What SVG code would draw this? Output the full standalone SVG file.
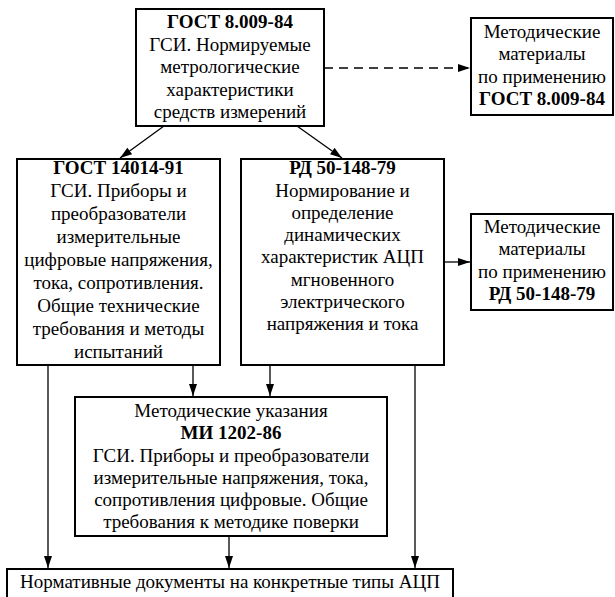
<svg xmlns="http://www.w3.org/2000/svg" width="615" height="597" viewBox="0 0 615 597">
<style>
.box{fill:#fff;stroke:#000;stroke-width:2}
.ln{stroke:#000;stroke-width:1.3;fill:none}
.dash{stroke-dasharray:9,6}
</style>
<defs>
<marker id="ah" viewBox="0 0 12 8" refX="12" refY="4" markerWidth="12" markerHeight="8" markerUnits="userSpaceOnUse" orient="auto">
<path d="M0,0 L12,4 L0,8 z" fill="#000"/>
</marker>
</defs>
<g id="connectors">
<line class="ln dash" x1="324" y1="68" x2="470" y2="68" marker-end="url(#ah)"/>
<line class="ln" x1="164" y1="126" x2="120" y2="158" marker-end="url(#ah)"/>
<line class="ln" x1="297" y1="126" x2="342" y2="158" marker-end="url(#ah)"/>
<line class="ln" x1="444" y1="262" x2="470" y2="262" marker-end="url(#ah)"/>
<line class="ln" x1="193" y1="365" x2="193" y2="396" marker-end="url(#ah)"/>
<line class="ln" x1="270" y1="365" x2="270" y2="396" marker-end="url(#ah)"/>
<line class="ln" x1="48" y1="365" x2="48" y2="568" marker-end="url(#ah)"/>
<line class="ln" x1="229" y1="536" x2="229" y2="568" marker-end="url(#ah)"/>
<line class="ln" x1="415" y1="365" x2="415" y2="568" marker-end="url(#ah)"/>
</g>
<g id="gost8009">
<rect class="box" x="136" y="9" width="188" height="117"/>
<text x="230" y="28" font-family="Liberation Serif" font-size="19" text-anchor="middle" font-weight="bold">ГОСТ 8.009-84</text>
<text x="230" y="50.5" font-family="Liberation Serif" font-size="19" text-anchor="middle">ГСИ. Нормируемые</text>
<text x="230" y="73" font-family="Liberation Serif" font-size="19" text-anchor="middle">метрологические</text>
<text x="230" y="95.5" font-family="Liberation Serif" font-size="19" text-anchor="middle">характеристики</text>
<text x="230" y="118" font-family="Liberation Serif" font-size="19" text-anchor="middle">средств измерений</text>
</g>
<g id="metod1">
<rect class="box" x="471" y="18" width="142" height="97"/>
<text x="542" y="38" font-family="Liberation Serif" font-size="19" text-anchor="middle">Методические</text>
<text x="542" y="60" font-family="Liberation Serif" font-size="19" text-anchor="middle">материалы</text>
<text x="542" y="82.5" font-family="Liberation Serif" font-size="19" text-anchor="middle">по применению</text>
<text x="542" y="105" font-family="Liberation Serif" font-size="19" text-anchor="middle" font-weight="bold">ГОСТ 8.009-84</text>
</g>
<g id="gost14014">
<rect class="box" x="17" y="159" width="203" height="206"/>
<text x="118.5" y="174" font-family="Liberation Serif" font-size="19" text-anchor="middle" font-weight="bold">ГОСТ 14014-91</text>
<text x="118.5" y="197" font-family="Liberation Serif" font-size="19" text-anchor="middle">ГСИ. Приборы и</text>
<text x="118.5" y="220" font-family="Liberation Serif" font-size="19" text-anchor="middle">преобразователи</text>
<text x="118.5" y="243" font-family="Liberation Serif" font-size="19" text-anchor="middle">измерительные</text>
<text x="118.5" y="266" font-family="Liberation Serif" font-size="19" text-anchor="middle">цифровые напряжения,</text>
<text x="118.5" y="289" font-family="Liberation Serif" font-size="19" text-anchor="middle">тока, сопротивления.</text>
<text x="118.5" y="312" font-family="Liberation Serif" font-size="19" text-anchor="middle">Общие технические</text>
<text x="118.5" y="335" font-family="Liberation Serif" font-size="19" text-anchor="middle">требования и методы</text>
<text x="118.5" y="358" font-family="Liberation Serif" font-size="19" text-anchor="middle">испытаний</text>
</g>
<g id="rd50">
<rect class="box" x="241" y="159" width="203" height="206"/>
<text x="342.5" y="174" font-family="Liberation Serif" font-size="19" text-anchor="middle" font-weight="bold">РД 50-148-79</text>
<text x="342.5" y="196.5" font-family="Liberation Serif" font-size="19" text-anchor="middle">Нормирование и</text>
<text x="342.5" y="219" font-family="Liberation Serif" font-size="19" text-anchor="middle">определение</text>
<text x="342.5" y="241" font-family="Liberation Serif" font-size="19" text-anchor="middle">динамических</text>
<text x="342.5" y="263" font-family="Liberation Serif" font-size="19" text-anchor="middle">характеристик АЦП</text>
<text x="342.5" y="285.5" font-family="Liberation Serif" font-size="19" text-anchor="middle">мгновенного</text>
<text x="342.5" y="307.5" font-family="Liberation Serif" font-size="19" text-anchor="middle">электрического</text>
<text x="342.5" y="330" font-family="Liberation Serif" font-size="19" text-anchor="middle">напряжения и тока</text>
</g>
<g id="metod2">
<rect class="box" x="471" y="214" width="142" height="96"/>
<text x="542" y="233" font-family="Liberation Serif" font-size="19" text-anchor="middle">Методические</text>
<text x="542" y="255" font-family="Liberation Serif" font-size="19" text-anchor="middle">материалы</text>
<text x="542" y="277.5" font-family="Liberation Serif" font-size="19" text-anchor="middle">по применению</text>
<text x="542" y="300" font-family="Liberation Serif" font-size="19" text-anchor="middle" font-weight="bold">РД 50-148-79</text>
</g>
<g id="mi1202">
<rect class="box" x="75" y="397" width="312" height="139"/>
<text x="231" y="417" font-family="Liberation Serif" font-size="19" text-anchor="middle">Методические указания</text>
<text x="231" y="439" font-family="Liberation Serif" font-size="19" text-anchor="middle" font-weight="bold">МИ 1202-86</text>
<text x="231" y="461.5" font-family="Liberation Serif" font-size="19" text-anchor="middle">ГСИ. Приборы и преобразователи</text>
<text x="231" y="484" font-family="Liberation Serif" font-size="19" text-anchor="middle">измерительные напряжения, тока,</text>
<text x="231" y="506" font-family="Liberation Serif" font-size="19" text-anchor="middle">сопротивления цифровые. Общие</text>
<text x="231" y="528" font-family="Liberation Serif" font-size="19" text-anchor="middle">требования к методике поверки</text>
</g>
<g id="normdocs">
<rect class="box" x="7" y="569" width="446" height="34"/>
<text x="230" y="588" font-family="Liberation Serif" font-size="19" text-anchor="middle">Нормативные документы на конкретные типы АЦП</text>
</g>
</svg>
